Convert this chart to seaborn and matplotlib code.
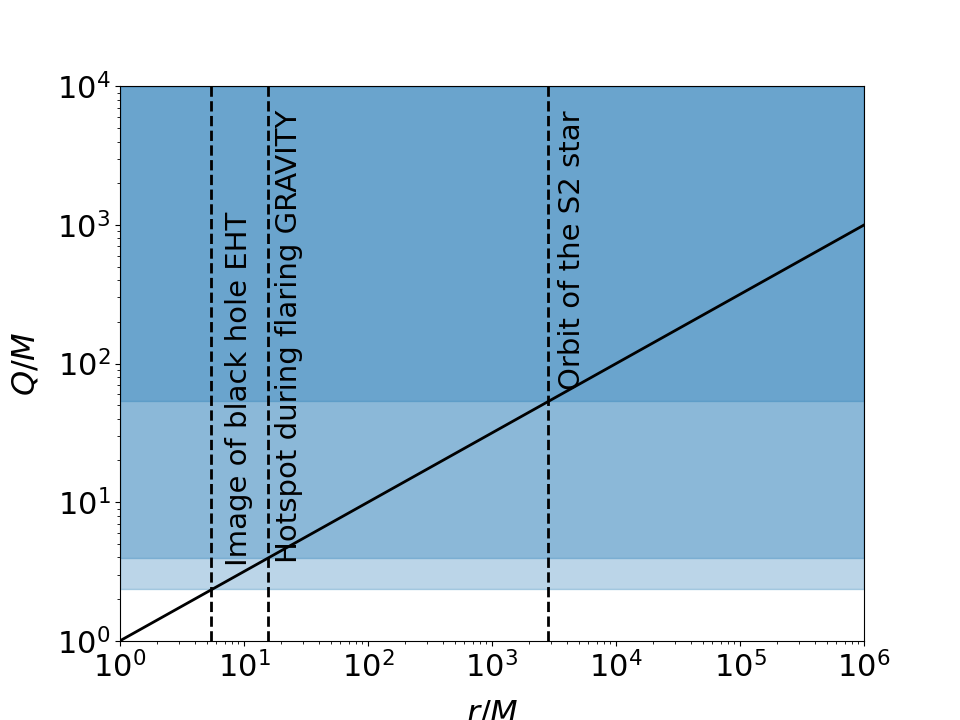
import matplotlib
matplotlib.use("Agg")
import matplotlib.pyplot as plt
import seaborn as sns
import pandas as pd

# Data
r_line = [1.0, 1e6]
q_line = [1.0, 1e3]
r_marks = [5.4, 15.7, 2840.0]
q_bands = [2.35, 3.96, 53.3]
labels = ["Image of black hole EHT", "Hotspot during flaring GRAVITY", "Orbit of the S2 star"]
label_x = [7.0, 17.8, 3400.0]
label_y = [3.49, 3.66, 64.0]

plt.rcParams['font.family'] = ['DejaVu Sans']
plt.rcParams['font.size'] = 22

fig, ax = plt.subplots(figsize=(9.6, 7.2), dpi=100)

for qb in q_bands:
    ax.fill_between([r_line[0], r_line[1]], [qb, qb], [1e4, 1e4], color='C0', alpha=0.3)

df = pd.DataFrame({"r": r_line, "Q": q_line})
sns.lineplot(data=df, x="r", y="Q", color='k', linewidth=2, ax=ax)

for rm in r_marks:
    ax.axvline(rm, color='k', linestyle='--', linewidth=2)

for t, x, y in zip(labels, label_x, label_y):
    ax.text(x, y, t, rotation=90, ha='left', va='bottom', fontsize=21)

ax.set_xscale('log')
ax.set_yscale('log')
ax.set_xlim(1, 1e6)
ax.set_ylim(1, 1e4)
ax.set_xlabel('$r/M$', fontsize=23, labelpad=11)
ax.set_ylabel('$Q/M$', fontsize=23, labelpad=11)
ax.tick_params(labelsize=22)

fig.savefig('out.png', dpi=100)
